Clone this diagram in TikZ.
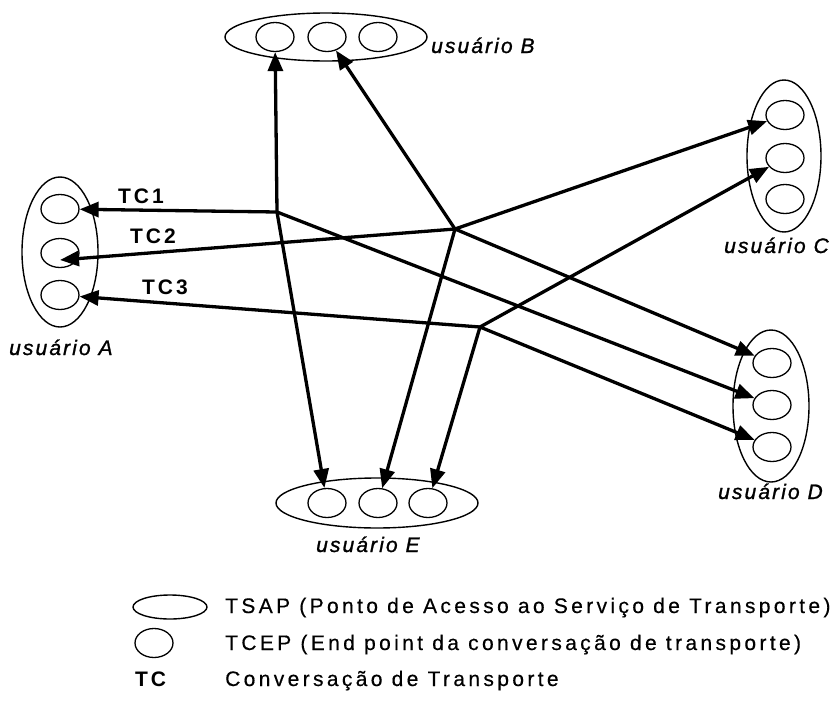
\documentclass[tikz,border=0pt]{standalone}
\usepackage{fontspec}
\setmainfont{Liberation Sans}
\newfontfamily\spaced{Liberation Sans}[LetterSpace=16, FakeBold=0.4]
\newfontface\userfont{Liberation Sans Italic}[LetterSpace=10, FakeBold=1.2]
\newfontface\tcfont{Liberation Sans Bold}[LetterSpace=14]
\usetikzlibrary{arrows.meta,shapes.geometric}

\begin{document}
\begin{tikzpicture}[x=1pt,y=-1pt,
  tsap/.style={draw, ellipse, line width=1.4pt, inner sep=0pt},
  tcep/.style={draw, ellipse, line width=1.3pt, minimum width=38pt, minimum height=29pt, inner sep=0pt},
  conn/.style={line width=3.3pt, line cap=round, -{Triangle[length=19pt,width=15pt]}},
  ulabel/.style={font=\userfont\fontsize{21}{25}\selectfont, anchor=base west, inner sep=0pt},
  tclabel/.style={font=\tcfont\fontsize{21}{25}\selectfont, anchor=base west, inner sep=0pt},
  legend/.style={font=\spaced\fontsize{21}{25}\selectfont, anchor=base west, inner sep=0pt}]

\useasboundingbox (0,0) rectangle (836,718);

% user A
\node[tsap, minimum width=76pt, minimum height=150pt] (tsapA) at (60,252) {};
\node[tcep] (a1) at (60,209) {};
\node[tcep] (a2) at (60,253) {};
\node[tcep] (a3) at (60,295) {};
% user B
\node[tsap, minimum width=202pt, minimum height=48pt] (tsapB) at (326,37) {};
\node[tcep] (b1) at (275,37) {};
\node[tcep] (b2) at (327,37) {};
\node[tcep] (b3) at (378,37) {};
% user C
\node[tsap, minimum width=74pt, minimum height=152pt] (tsapC) at (784,156) {};
\node[tcep] (c1) at (785,115) {};
\node[tcep] (c2) at (785,158) {};
\node[tcep] (c3) at (785,199) {};
% user D
\node[tsap, minimum width=76pt, minimum height=152pt] (tsapD) at (771,406) {};
\node[tcep] (d1) at (772,363) {};
\node[tcep] (d2) at (772,405) {};
\node[tcep] (d3) at (772,447) {};
% user E
\node[tsap, minimum width=202pt, minimum height=50pt] (tsapE) at (377,503) {};
\node[tcep] (e1) at (327,503) {};
\node[tcep] (e2) at (378,503) {};
\node[tcep] (e3) at (428,503) {};

% branching points of the three conversations
\coordinate (h1) at (277,212);
\coordinate (h2) at (455,229);
\coordinate (h3) at (480,327);
\coordinate (a2in) at ([yshift=-7pt]a2.center);

% TC1
\draw[conn] (h1) -- (a1);
\draw[conn] (h1) -- (b1);
\draw[conn] (h1) -- (e1);
\draw[conn] (h1) -- (d2);
% TC2
\draw[conn] (h2) -- (a2in);
\draw[conn] (h2) -- (b2);
\draw[conn] (h2) -- (c1);
\draw[conn] (h2) -- (d1);
\draw[conn] (h2) -- (e2);
% TC3
\draw[conn] (h3) -- (a3);
\draw[conn] (h3) -- (c2);
\draw[conn] (h3) -- (d3);
\draw[conn] (h3) -- (e3);

% labels
\node[ulabel] (lA) at (9,355) {usuário A};
\node[ulabel] (lB) at (431,53) {usuário B};
\node[ulabel] (lC) at (724,253) {usuário C};
\node[ulabel] (lD) at (718,499) {usuário D};
\node[ulabel] (lE) at (316,552) {usuário E};
\node[tclabel] (tc1) at (118,203) {TC1};
\node[tclabel] (tc2) at (130,243) {TC2};
\node[tclabel] (tc3) at (142,294) {TC3};

% legend
\node[tsap, minimum width=74pt, minimum height=24pt] (legT) at (170,607) {};
\node[tcep] (legC) at (154,643) {};
\node[legend] (txT) at (225,613) {TSAP (Ponto de Acesso ao Serviço de Transporte)};
\node[legend] (txC) at (225,650) {TCEP (End point da conversação de transporte)};
\node[tclabel] (legTC) at (135,686) {TC};
\node[legend] (txTC) at (225,686) {Conversação de Transporte};
\end{tikzpicture}
\end{document}
